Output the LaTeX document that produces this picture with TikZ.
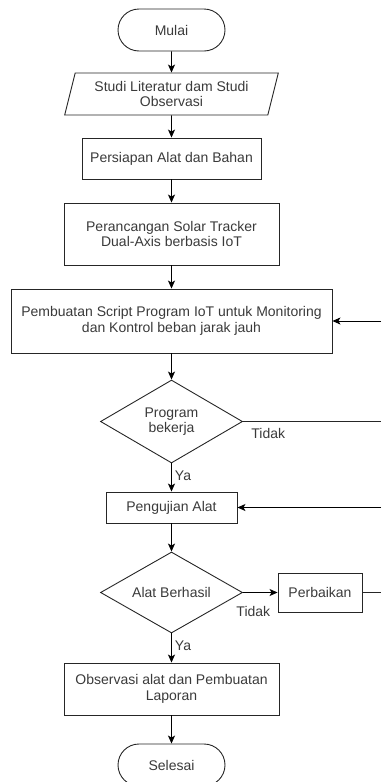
\documentclass[tikz,border=0pt]{standalone}
\usepackage{fontspec}
\setmainfont{Liberation Sans}
\usetikzlibrary{shapes.geometric,shapes.misc,arrows.meta}
\definecolor{txt}{HTML}{3A3A3A}
\tikzset{
  base/.style={draw=black!85, line width=0.9pt, text=txt, font=\fontsize{14}{15.5}\selectfont, align=center, inner sep=1pt},
  proc/.style={base, rectangle},
  term/.style={base, rounded rectangle},
  io/.style={base, trapezium, trapezium left angle=73, trapezium right angle=107, trapezium stretches=true},
  dec/.style={base, diamond, aspect=1.7},
  conn/.style={line width=0.9pt, draw=black, -{Stealth[length=8pt,width=7pt,inset=2pt]}},
  line/.style={line width=0.9pt, draw=black!85},
  lab/.style={text=txt, font=\fontsize{14}{16}\selectfont, inner sep=1pt}
}
\begin{document}
\begin{tikzpicture}[x=1pt,y=-1pt]
\useasboundingbox (0,0) rectangle (381,782);
\node[term, minimum width=109, minimum height=42] (mulai) at (171.5,30) {Mulai};
\node[io, minimum width=214, minimum height=42] (studi) at (171.5,94) {Studi Literatur dam Studi\\Observasi};
\node[proc, minimum width=179, minimum height=41] (persiapan) at (171.5,158.5) {Persiapan Alat dan Bahan};
\node[proc, minimum width=215, minimum height=62] (perancangan) at (171.5,234) {Perancangan Solar Tracker\\Dual-Axis berbasis IoT};
\node[proc, minimum width=321, minimum height=64] (pembuatan) at (171.5,321) {Pembuatan Script Program IoT untuk Monitoring\\dan Kontrol beban jarak jauh};
\node[dec, minimum width=142, minimum height=83] (d1) at (171.5,421.5) {Program\\bekerja};
\node[proc, minimum width=131, minimum height=31] (pengujian) at (171.5,507.5) {Pengujian Alat};
\node[dec, minimum width=142, minimum height=81] (d2) at (171.5,592.5) {Alat Berhasil};
\node[proc, minimum width=84, minimum height=39] (perbaikan) at (320,592.5) {Perbaikan};
\node[proc, minimum width=215, minimum height=52] (observasi) at (171.5,689) {Observasi alat dan Pembuatan\\Laporan};
\node[term, minimum width=109, minimum height=42] (selesai) at (171.5,765) {Selesai};

\coordinate (r1) at (381,321);
\coordinate (r2) at (381,421.5);
\coordinate (r3) at (381,507.5);
\coordinate (r4) at (381,592.5);

\draw[conn] (mulai) -- (studi);
\draw[conn] (studi) -- (persiapan);
\draw[conn] (persiapan) -- (perancangan);
\draw[conn] (perancangan) -- (pembuatan);
\draw[conn] (pembuatan) -- (d1);
\draw[conn] (d1) -- node[lab, anchor=west, pos=0.45, xshift=2] {Ya} (pengujian);
\draw[conn] (pengujian) -- (d2);
\draw[conn] (d2) -- node[lab, anchor=west, pos=0.42, xshift=2] {Ya} (observasi);
\draw[conn] (observasi) -- (selesai);
\draw[conn] (d2.east) -- node[lab, pos=0.3, anchor=north, yshift=-12] {Tidak} (perbaikan);
\draw[line] (d1.east) -- node[lab, pos=0, anchor=north west, xshift=7, yshift=-5] {Tidak} (r2);
\draw[line] (perbaikan.east) -- (r4);
\draw[conn] (r1) -- (pembuatan.east);
\draw[conn] (r3) -- (pengujian.east);
\end{tikzpicture}
\end{document}
